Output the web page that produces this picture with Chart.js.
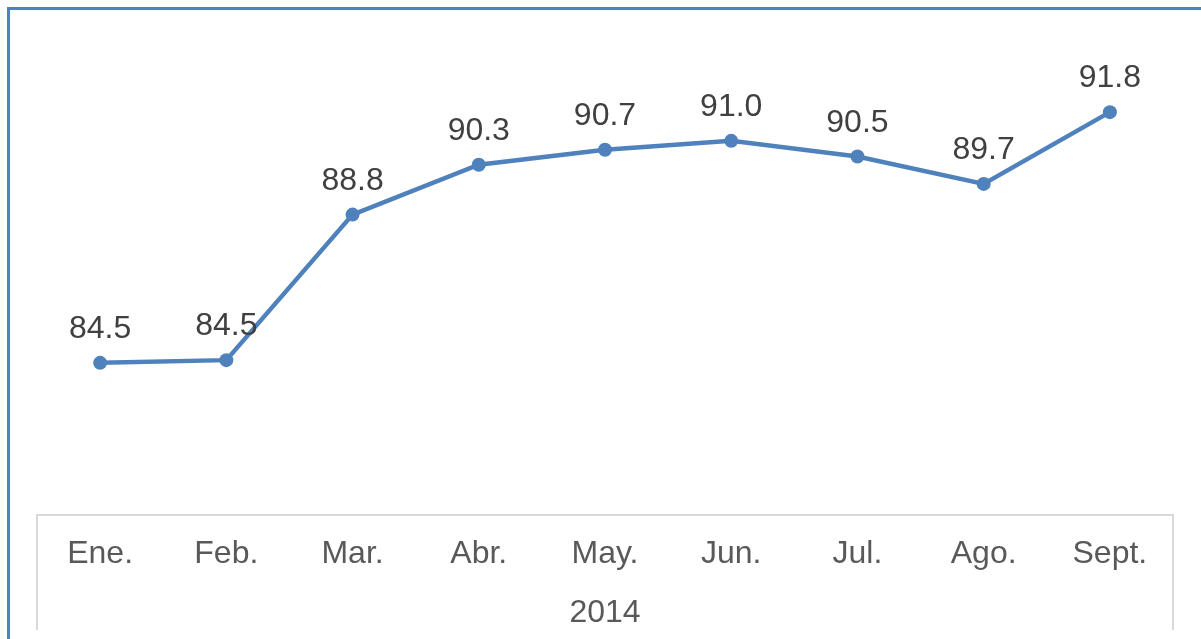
<!DOCTYPE html>
<html>
<head>
<meta charset="utf-8">
<script src="https://cdn.jsdelivr.net/npm/chart.js@4"></script>
<style>
    body { margin: 0; background: #fff; overflow: hidden; }
    #frame {
        position: absolute; left: 7px; top: 7px; width: 1300px; height: 700px;
        border-left: 3px solid #4F81BD; border-top: 3px solid #4F81BD;
    }
    #wrap { position: absolute; left: 0; top: 0; width: 1201px; height: 639px; }
</style>
</head>
<body>
<div id="frame"></div>
<div id="wrap"><canvas id="indexChart"></canvas></div>
<script>
// Months of 2014 and the index value for each month.
const months = ['Ene.', 'Feb.', 'Mar.', 'Abr.', 'May.', 'Jun.', 'Jul.', 'Ago.', 'Sept.'];
const values = [84.46, 84.54, 88.8, 90.26, 90.7, 90.96, 90.5, 89.7, 91.8];
const yearLabel = '2014';

const FONT = '"Liberation Sans", Arial, sans-serif';

// Draws the value above each point and the side lines of the category box.
const extrasPlugin = {
    id: 'extras',
    afterDatasetsDraw(chart) {
        const ctx = chart.ctx;
        const meta = chart.getDatasetMeta(0);
        ctx.save();
        ctx.font = '32px ' + FONT;
        ctx.fillStyle = '#404040';
        ctx.textAlign = 'center';
        ctx.textBaseline = 'alphabetic';
        meta.data.forEach(function(pt, i) {
            ctx.fillText(values[i].toFixed(1), pt.x, pt.y - 25);
        });
        ctx.restore();
    },
    afterDraw(chart) {
        const ctx = chart.ctx;
        const x = chart.scales.x;
        ctx.save();
        ctx.strokeStyle = '#D9D9D9';
        ctx.lineWidth = 2;
        ctx.beginPath();
        ctx.moveTo(x.left, x.top - 1);
        ctx.lineTo(x.left, 630);
        ctx.moveTo(x.right, x.top - 1);
        ctx.lineTo(x.right, 630);
        ctx.stroke();
        ctx.restore();
    }
};

function createChart() {
    const ctx = document.getElementById('indexChart').getContext('2d');
    const config = {
        type: 'line',
        data: {
            labels: months,
            datasets: [{
                data: values,
                borderColor: '#4F81BD',
                borderWidth: 4.5,
                fill: false,
                tension: 0,
                pointRadius: 7,
                pointBorderWidth: 0,
                pointBackgroundColor: '#4F81BD'
            }]
        },
        options: {
            responsive: true,
            maintainAspectRatio: false,
            animation: false,
            layout: {
                padding: { left: 37, right: 28, top: 37, bottom: 7 }
            },
            scales: {
                x: {
                    offset: true,
                    grid: { display: false, drawTicks: false },
                    border: { display: true, color: '#D9D9D9', width: 2 },
                    ticks: {
                        color: '#595959',
                        padding: 20,
                        font: { size: 32, family: FONT }
                    },
                    title: {
                        display: true,
                        text: yearLabel,
                        color: '#595959',
                        font: { size: 32, family: FONT },
                        padding: { top: 0, bottom: 0 }
                    }
                },
                y: {
                    display: false,
                    min: 80,
                    max: 94
                }
            },
            plugins: {
                legend: { display: false },
                tooltip: { enabled: false }
            }
        },
        plugins: [extrasPlugin]
    };
    new Chart(ctx, config);
}

createChart();
</script>
</body>
</html>
